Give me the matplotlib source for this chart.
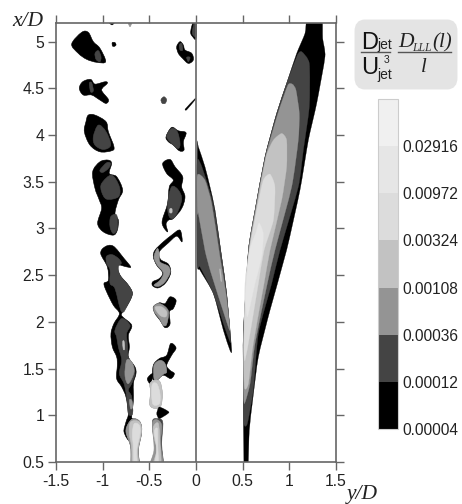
"""Structure function contours for the jet, left and right half, grey levels."""

import matplotlib

matplotlib.use("Agg")
import matplotlib.pyplot as plt
from matplotlib.cm import ScalarMappable
from matplotlib.colors import BoundaryNorm, ListedColormap
from matplotlib.lines import Line2D
from matplotlib.patches import FancyBboxPatch, PathPatch
from matplotlib.path import Path

plt.rcParams["font.family"] = ["Liberation Sans", "DejaVu Sans"]

OUT = "out.png"

LEVELS = [0.00004, 0.00012, 0.00036, 0.00108, 0.00324, 0.00972, 0.02916, 0.08748]
LEVEL_LABELS = ["0.00004", "0.00012", "0.00036", "0.00108", "0.00324", "0.00972", "0.02916"]
GREYS = ["#000000", "#444444", "#949494", "#c2c2c2", "#dcdcdc", "#e6e6e6", "#f0f0f0"]
X_TICKS = [-1.5, -1, -0.5, 0, 0.5, 1, 1.5]
X_TICK_LABELS = ["-1.5", "-1", "-0.5", "0", "0.5", "1", "1.5"]
Y_TICKS = [0.5, 1, 1.5, 2, 2.5, 3, 3.5, 4, 4.5, 5]
Y_TICK_LABELS = ["0.5", "1", "1.5", "2", "2.5", "3", "3.5", "4", "4.5", "5"]

# left half, outer edge of the shear layer (y/D, x/D pairs)
A_BLACK = [(-1.332, 4.975), (-1.225, 5.1), (-1.154, 5.1), (-1.1, 5.0), (-1.029, 4.929), (-0.968, 4.786), (-1.064, 4.779), (-1.171, 4.811), (-1.261, 4.875)]
A_DARK = [(-1.082, 4.875), (-1.046, 4.904), (-1.018, 4.839), (-1.029, 4.786), (-1.071, 4.811)]
D_BLACK = [(-1.25, 4.5), (-1.214, 4.571), (-1.129, 4.596), (-1.082, 4.546), (-0.975, 4.571), (-0.95, 4.554), (-1.011, 4.482), (-0.939, 4.382), (-0.964, 4.339), (-1.029, 4.375), (-1.118, 4.429), (-1.207, 4.429)]
D_DARK = [(-1.143, 4.554), (-1.118, 4.561), (-1.1, 4.475), (-1.129, 4.464)]
G_BLACK = [(-1.154, 4.214), (-1.082, 4.214), (-0.964, 4.143), (-0.939, 4.036), (-0.879, 3.875), (-0.904, 3.832), (-1.029, 3.821), (-1.136, 3.893), (-1.196, 4.036), (-1.179, 4.143)]
G_DARK = [(-1.046, 4.107), (-0.964, 4.036), (-0.914, 3.893), (-0.993, 3.846), (-1.082, 3.893), (-1.1, 3.982)]
I_BLACK = [(-1.107, 3.607), (-1.029, 3.714), (-0.939, 3.732), (-0.904, 3.696), (-0.929, 3.589), (-0.85, 3.554), (-0.786, 3.411), (-0.832, 3.304), (-0.868, 3.161), (-0.832, 3.089), (-0.843, 2.982), (-0.886, 2.929), (-0.993, 2.964), (-1.054, 3.054), (-1.011, 3.214), (-1.036, 3.304), (-1.082, 3.429)]
I_DARK_1 = [(-1.011, 3.482), (-0.904, 3.571), (-0.821, 3.446), (-0.832, 3.339), (-0.957, 3.314), (-1.011, 3.393)]
I_DARK_2 = [(-0.914, 3.125), (-0.85, 3.143), (-0.843, 3.0), (-0.886, 2.946), (-0.921, 3.018)]
I_DARK_3 = [(-1.029, 3.625), (-0.957, 3.704), (-0.914, 3.696), (-0.939, 3.643), (-1.0, 3.6)]
L_BLACK = [(-1.021, 2.732), (-0.975, 2.804), (-0.886, 2.811), (-0.771, 2.679), (-0.7, 2.589), (-0.743, 2.589), (-0.843, 2.607), (-0.814, 2.5), (-0.725, 2.393), (-0.682, 2.304), (-0.725, 2.196), (-0.796, 2.089), (-0.786, 2.054), (-0.689, 1.964), (-0.725, 1.857), (-0.714, 1.732), (-0.725, 1.625), (-0.654, 1.518), (-0.643, 1.446), (-0.671, 1.339), (-0.671, 1.161), (-0.689, 0.982), (-0.671, 0.946), (-0.707, 0.732), (-0.771, 0.821), (-0.75, 0.929), (-0.725, 1.018), (-0.75, 1.196), (-0.796, 1.304), (-0.85, 1.393), (-0.843, 1.536), (-0.85, 1.625), (-0.896, 1.732), (-0.911, 1.875), (-0.879, 1.982), (-0.821, 2.089), (-0.886, 2.179), (-0.957, 2.321), (-0.986, 2.411), (-0.939, 2.446), (-0.95, 2.589)]
L_DARK_UP = [(-0.96, 2.70), (-0.9, 2.72), (-0.832, 2.68), (-0.8, 2.63), (-0.832, 2.589), (-0.814, 2.5), (-0.725, 2.393), (-0.682, 2.304), (-0.725, 2.196), (-0.796, 2.107), (-0.868, 2.357), (-0.921, 2.411), (-0.921, 2.554), (-0.957, 2.625)]
L_DARK_LOW = [(-0.868, 1.911), (-0.796, 2.036), (-0.707, 1.964), (-0.743, 1.875), (-0.732, 1.732), (-0.725, 1.625), (-0.671, 1.536), (-0.654, 1.446), (-0.689, 1.339), (-0.725, 1.268), (-0.689, 1.196), (-0.679, 1.018), (-0.725, 1.018), (-0.743, 1.196), (-0.771, 1.339), (-0.821, 1.446), (-0.796, 1.589), (-0.832, 1.732), (-0.85, 1.839)]
L_GREY_1 = [(-0.743, 1.589), (-0.689, 1.571), (-0.664, 1.464), (-0.725, 1.339), (-0.761, 1.429)]
L_GREY_2 = [(-0.714, 1.161), (-0.689, 1.161), (-0.679, 1.089), (-0.7, 1.071)]
L_GREY_3 = [(-0.785, 1.79), (-0.77, 1.79), (-0.765, 1.71), (-0.78, 1.71)]
BASE_GREY = [(-0.671, 0.964), (-0.6, 0.929), (-0.582, 0.821), (-0.618, 0.625), (-0.607, 0.45), (-0.689, 0.45), (-0.7, 0.661), (-0.75, 0.821), (-0.725, 0.911)]
BASE_MID = [(-0.7, 0.929), (-0.607, 0.929), (-0.586, 0.821), (-0.625, 0.625), (-0.614, 0.45), (-0.679, 0.45), (-0.689, 0.661), (-0.714, 0.804)]
BASE_LIGHT = [(-0.661, 0.911), (-0.607, 0.893), (-0.6, 0.804), (-0.636, 0.625), (-0.629, 0.45), (-0.664, 0.45), (-0.671, 0.661), (-0.682, 0.804)]

# left half, inner edge of the shear layer
C_BLACK = [(-0.207, 4.946), (-0.171, 5.0), (-0.136, 4.964), (-0.118, 4.911), (-0.046, 4.875), (-0.029, 4.804), (-0.082, 4.768), (-0.143, 4.821), (-0.189, 4.875)]
C_DARK_1 = [(-0.179, 4.964), (-0.154, 4.982), (-0.143, 4.911), (-0.171, 4.911)]
C_DARK_2 = [(-0.1, 4.832), (-0.064, 4.832), (-0.082, 4.786)]
DOT_UPPER = [(-0.897, 4.99), (-0.868, 4.99), (-0.857, 4.965), (-0.875, 4.95), (-0.895, 4.955)]
DOT_MIDDLE = [(-0.375, 4.38), (-0.343, 4.41), (-0.315, 4.38), (-0.33, 4.34), (-0.362, 4.34)]
DASH = [(-0.115, 4.28), (-0.011, 4.39), (-0.011, 4.375), (-0.1, 4.27)]
H_BLACK = [(-0.321, 3.982), (-0.261, 4.082), (-0.189, 4.046), (-0.107, 4.025), (-0.136, 3.929), (-0.129, 3.839), (-0.179, 3.832), (-0.243, 3.893), (-0.296, 3.929)]
H_DARK = [(-0.314, 3.982), (-0.261, 4.071), (-0.2, 4.036), (-0.171, 3.911), (-0.189, 3.857), (-0.243, 3.893)]
J_BLACK = [(-0.357, 3.696), (-0.279, 3.739), (-0.225, 3.661), (-0.143, 3.554), (-0.154, 3.446), (-0.118, 3.339), (-0.154, 3.214), (-0.243, 3.107), (-0.296, 3.089), (-0.321, 3.046), (-0.304, 2.964), (-0.35, 3.018), (-0.361, 3.089), (-0.304, 3.268), (-0.286, 3.446), (-0.243, 3.518), (-0.314, 3.589)]
J_DARK = [(-0.261, 3.446), (-0.189, 3.411), (-0.154, 3.304), (-0.225, 3.125), (-0.286, 3.125), (-0.304, 3.268)]
J_LIGHT = [(-0.28, 3.21), (-0.258, 3.21), (-0.258, 3.17), (-0.28, 3.17)]
S_BLACK = [(-0.189, 2.982), (-0.161, 2.964), (-0.15, 2.857), (-0.207, 2.918), (-0.296, 2.846), (-0.393, 2.75), (-0.379, 2.668), (-0.296, 2.618), (-0.271, 2.525), (-0.325, 2.418), (-0.404, 2.364), (-0.464, 2.386), (-0.464, 2.429), (-0.393, 2.464), (-0.357, 2.525), (-0.421, 2.607), (-0.457, 2.696), (-0.439, 2.768), (-0.35, 2.857), (-0.261, 2.929)]
S_GREY = [(-0.45, 2.696), (-0.414, 2.786), (-0.393, 2.732), (-0.386, 2.643), (-0.296, 2.596), (-0.279, 2.525), (-0.332, 2.429), (-0.396, 2.382), (-0.45, 2.393), (-0.386, 2.446), (-0.35, 2.525), (-0.414, 2.607)]
T_BLACK = [(-0.457, 2.161), (-0.393, 2.204), (-0.332, 2.196), (-0.279, 2.268), (-0.214, 2.232), (-0.243, 2.143), (-0.286, 2.107), (-0.279, 1.975), (-0.332, 1.939), (-0.386, 2.018), (-0.439, 2.089)]
T_GREY = [(-0.45, 2.168), (-0.386, 2.196), (-0.296, 2.118), (-0.314, 1.975), (-0.35, 1.964), (-0.393, 2.036), (-0.446, 2.107)]
T_MID = [(-0.439, 2.154), (-0.368, 2.161), (-0.314, 2.107), (-0.325, 2.054), (-0.386, 2.071)]
U_BLACK = [(-0.457, 1.536), (-0.393, 1.607), (-0.314, 1.643), (-0.271, 1.768), (-0.214, 1.721), (-0.261, 1.643), (-0.314, 1.536), (-0.279, 1.482), (-0.232, 1.446), (-0.271, 1.393), (-0.35, 1.429), (-0.421, 1.375), (-0.464, 1.393)]
U_GREY = [(-0.45, 1.536), (-0.386, 1.589), (-0.332, 1.554), (-0.314, 1.464), (-0.35, 1.439), (-0.421, 1.375), (-0.45, 1.393)]
V_BLACK = [(-0.521, 1.393), (-0.464, 1.446), (-0.486, 1.339)]
V_MID = [(-0.493, 1.339), (-0.439, 1.375), (-0.386, 1.357), (-0.361, 1.232), (-0.375, 1.107), (-0.421, 1.071), (-0.493, 1.107), (-0.486, 1.25)]
V_LIGHT = [(-0.471, 1.321), (-0.421, 1.339), (-0.386, 1.232), (-0.393, 1.125), (-0.464, 1.125)]
SPIKE = [(-0.393, 1.089), (-0.289, 1.032), (-0.393, 0.964), (-0.421, 1.018)]
W_BLACK = [(-0.464, 0.946), (-0.421, 0.964), (-0.357, 0.929), (-0.368, 0.696), (-0.357, 0.45), (-0.493, 0.45), (-0.439, 0.625), (-0.464, 0.839)]
W_GREY = [(-0.464, 0.929), (-0.421, 0.954), (-0.368, 0.893), (-0.379, 0.696), (-0.357, 0.45), (-0.493, 0.45), (-0.45, 0.625), (-0.464, 0.839)]
W_MID = [(-0.457, 0.875), (-0.404, 0.911), (-0.386, 0.696), (-0.379, 0.45), (-0.464, 0.45), (-0.421, 0.625), (-0.45, 0.768)]
W_LIGHT = [(-0.446, 0.821), (-0.414, 0.857), (-0.411, 0.696), (-0.404, 0.45), (-0.45, 0.45), (-0.421, 0.625)]
TOP_BIT_1 = [(-0.957, 5.25), (-0.857, 5.25), (-0.9, 5.18)]
TOP_BIT_2 = [(-0.736, 5.25), (-0.68, 5.25), (-0.707, 5.16)]
TOP_BIT_3 = [(-0.057, 5.107), (-0.021, 5.25), (0.0, 5.25), (0.0, 5.036), (-0.036, 5.054)]
TOP_BIT_4 = [(-0.04, 5.107), (-0.015, 5.22), (-0.005, 5.22), (-0.005, 5.06), (-0.03, 5.07)]

# right half, plume
PLUME_BLACK = [(0.514, 0.45), (0.557, 0.45), (0.571, 0.839), (0.607, 1.161), (0.668, 1.625), (0.793, 2.125), (0.971, 2.768), (1.114, 3.411), (1.204, 3.946), (1.293, 4.339), (1.382, 4.839), (1.357, 5.036), (1.346, 5.25), (1.193, 5.25), (1.168, 5.089), (1.079, 4.875), (0.971, 4.554), (0.864, 4.232), (0.739, 3.768), (0.632, 3.196), (0.561, 2.768), (0.507, 1.875), (0.507, 1.339)]
PLUME_DARK = [(1.132, 4.893), (1.214, 4.768), (1.214, 4.304), (1.15, 3.839), (1.096, 3.446), (0.9, 2.768), (0.811, 2.411), (0.668, 1.875), (0.614, 1.268), (0.55, 0.911), (0.514, 0.911), (0.507, 1.339), (0.507, 1.875), (0.561, 2.768), (0.632, 3.196), (0.739, 3.768), (0.864, 4.232), (0.971, 4.554), (1.086, 4.857)]
PLUME_GREY = [(1.036, 4.543), (1.071, 4.482), (1.107, 4.232), (1.096, 3.946), (1.025, 3.446), (0.846, 2.768), (0.764, 2.411), (0.632, 1.768), (0.579, 1.339), (0.518, 1.125), (0.507, 1.339), (0.507, 1.875), (0.564, 2.768), (0.636, 3.196), (0.745, 3.768), (0.878, 4.232), (0.985, 4.536)]
PLUME_MID = [(0.918, 4.018), (0.971, 3.946), (0.971, 3.661), (0.918, 3.304), (0.793, 2.768), (0.729, 2.411), (0.614, 1.768), (0.561, 1.339), (0.518, 1.304), (0.514, 1.875), (0.571, 2.768), (0.643, 3.196), (0.75, 3.768), (0.829, 3.946)]
PLUME_LIGHT = [(0.793, 3.582), (0.846, 3.446), (0.829, 3.089), (0.729, 2.768), (0.668, 2.411), (0.579, 1.875), (0.525, 1.589), (0.514, 1.696), (0.525, 2.411), (0.571, 2.768), (0.65, 3.196), (0.721, 3.518)]
PLUME_CORE = [(0.675, 3.061), (0.721, 2.946), (0.704, 2.696), (0.632, 2.411), (0.55, 2.054), (0.53, 2.3), (0.575, 2.768), (0.64, 2.95)]

# right half, wedge next to the axis
WEDGE_BLACK = [(0.014, 3.875), (0.025, 3.875), (0.096, 3.661), (0.15, 3.446), (0.204, 3.196), (0.275, 2.696), (0.329, 2.304), (0.382, 1.704), (0.364, 1.696), (0.293, 1.911), (0.186, 2.304), (0.043, 2.554), (0.014, 2.643)]
WEDGE_DARK = [(0.014, 3.732), (0.15, 3.393), (0.204, 3.161), (0.275, 2.696), (0.329, 2.304), (0.371, 1.804), (0.357, 1.804), (0.293, 1.982), (0.186, 2.304), (0.043, 2.589), (0.014, 2.625)]
WEDGE_GREY = [(0.014, 3.571), (0.096, 3.518), (0.168, 3.268), (0.257, 2.696), (0.321, 2.304), (0.364, 1.911), (0.311, 2.054), (0.157, 2.536), (0.096, 2.768), (0.025, 3.161), (0.014, 3.161)]
WEDGE_STREAK = [(0.252, 2.56), (0.262, 2.56), (0.275, 2.44), (0.266, 2.44)]

BLOBS = [
    (0, A_BLACK), (1, A_DARK), (0, DOT_UPPER), (0, C_BLACK), (1, C_DARK_1), (1, C_DARK_2),
    (0, D_BLACK), (1, D_DARK), (1, DOT_MIDDLE), (0, G_BLACK), (1, G_DARK),
    (0, H_BLACK), (1, H_DARK), (0, I_BLACK), (1, I_DARK_1), (1, I_DARK_2), (1, I_DARK_3),
    (0, J_BLACK), (1, J_DARK), (3, J_LIGHT), (0, L_BLACK), (1, L_DARK_UP), (1, L_DARK_LOW),
    (2, L_GREY_1), (2, L_GREY_2), (3, L_GREY_3), (1, BASE_GREY), (2, BASE_GREY), (3, BASE_MID), (4, BASE_LIGHT),
    (0, S_BLACK), (2, S_GREY), (0, T_BLACK), (2, T_GREY), (3, T_MID),
    (0, U_BLACK), (2, U_GREY), (0, V_BLACK), (2, V_MID), (3, V_MID), (4, V_LIGHT),
    (1, W_BLACK), (2, W_GREY), (3, W_MID), (4, W_LIGHT),
    (0, TOP_BIT_1), (2, TOP_BIT_2), (0, TOP_BIT_3), (1, TOP_BIT_4),
]
SHARP = [
    (0, DASH), (0, SPIKE),
    (0, PLUME_BLACK), (1, PLUME_DARK), (2, PLUME_GREY), (3, PLUME_MID), (4, PLUME_LIGHT), (5, PLUME_CORE),
    (0, WEDGE_BLACK), (1, WEDGE_DARK), (2, WEDGE_GREY), (3, WEDGE_STREAK),
]


def smooth_path(pts, tension=1 / 6):
    # closed cubic curve that passes through every read-off point
    n = len(pts)
    verts = [pts[0]]
    codes = [Path.MOVETO]
    for i in range(n):
        p0, p1, p2, p3 = pts[i - 1], pts[i], pts[(i + 1) % n], pts[(i + 2) % n]
        c1 = (p1[0] + (p2[0] - p0[0]) * tension, p1[1] + (p2[1] - p0[1]) * tension)
        c2 = (p2[0] - (p3[0] - p1[0]) * tension, p2[1] - (p3[1] - p1[1]) * tension)
        verts += [c1, c2, p2]
        codes += [Path.CURVE4] * 3
    return Path(verts, codes)


def main():
    fig = plt.figure(figsize=(4.62, 5.04), dpi=100)
    ax = fig.add_axes([56 / 462, 1 - 462 / 504, 280 / 462, 439 / 504])

    for level, pts in BLOBS:
        ax.add_patch(PathPatch(smooth_path(pts), facecolor=GREYS[level], edgecolor=GREYS[level], linewidth=0.4))
    for level, pts in SHARP:
        ax.add_patch(PathPatch(smooth_path(pts, 1 / 10), facecolor=GREYS[level], edgecolor=GREYS[level], linewidth=0.2))

    ax.axvline(0, color="#666666", linewidth=1.2, zorder=5)
    ax.set_xlim(-1.5, 1.5)
    ax.set_ylim(0.5, 5.2)
    ax.set_xticks(X_TICKS, X_TICK_LABELS)
    ax.set_yticks(Y_TICKS, Y_TICK_LABELS)
    ax.tick_params(top=True, right=True, length=5.5, width=1, color="#666666", labelsize=11.3, labelcolor="#222222", pad=3)
    for spine in ax.spines.values():
        spine.set_color("#666666")
        spine.set_linewidth(1.2)
        spine.set_zorder(6)

    fig.text(12 / 462, 1 - 21 / 504, "x/D", family="Liberation Serif", style="italic", fontsize=15.5, va="center", color="#222222")
    fig.text(347 / 462, 1 - 494 / 504, "y/D", family="Liberation Serif", style="italic", fontsize=15.5, va="center", color="#222222")

    # legend title box
    fig.add_artist(FancyBboxPatch((358 / 462, 1 - 86 / 504), 96 / 462, 63 / 504, boxstyle="round,pad=0,rounding_size=0.015", mutation_aspect=504 / 462, facecolor="#e4e4e4", edgecolor="#e4e4e4", linewidth=5, transform=fig.transFigure))
    fig.add_artist(Line2D([361 / 462, 390 / 462], [1 - 52 / 504] * 2, color="#555555", linewidth=1))
    fig.add_artist(Line2D([398 / 462, 451 / 462], [1 - 52 / 504] * 2, color="#555555", linewidth=1))
    fig.text(361 / 462, 1 - 49 / 504, "D", fontsize=17, va="baseline", color="#111111")
    fig.text(377 / 462, 1 - 49 / 504, "jet", fontsize=10, va="baseline", color="#222222")
    fig.text(361 / 462, 1 - 74 / 504, "U", fontsize=17, va="baseline", color="#111111")
    fig.text(377 / 462, 1 - 79 / 504, "jet", fontsize=10, va="baseline", color="#222222")
    fig.text(384 / 462, 1 - 63 / 504, "3", fontsize=7.5, va="baseline", color="#222222")
    fig.text(398 / 462, 1 - 47 / 504, "D", family="Liberation Serif", style="italic", fontsize=15.5, va="baseline", color="#222222")
    fig.text(412 / 462, 1 - 51 / 504, "LLL", family="Liberation Serif", style="italic", fontsize=8.5, va="baseline", color="#333333")
    fig.text(432 / 462, 1 - 47 / 504, "(l)", family="Liberation Serif", style="italic", fontsize=15, va="baseline", color="#222222")
    fig.text(421 / 462, 1 - 72 / 504, "l", family="Liberation Serif", style="italic", fontsize=15, va="baseline", color="#222222")

    # grey scale bar
    cax = fig.add_axes([378 / 462, 1 - 429 / 504, 20 / 462, 330 / 504])
    norm = BoundaryNorm(LEVELS, len(GREYS))
    bar = fig.colorbar(ScalarMappable(norm=norm, cmap=ListedColormap(GREYS)), cax=cax, spacing="uniform")
    bar.set_ticks(LEVELS[:-1], labels=LEVEL_LABELS)
    bar.minorticks_off()
    bar.ax.tick_params(which="both", length=0, labelsize=11.2, labelcolor="#222222", pad=3)
    bar.outline.set_edgecolor("#cccccc")
    bar.outline.set_linewidth(0.8)
    bar.dividers.set_color("#cccccc")

    fig.savefig(OUT, dpi=100)
    plt.close(fig)


if __name__ == "__main__":
    main()
